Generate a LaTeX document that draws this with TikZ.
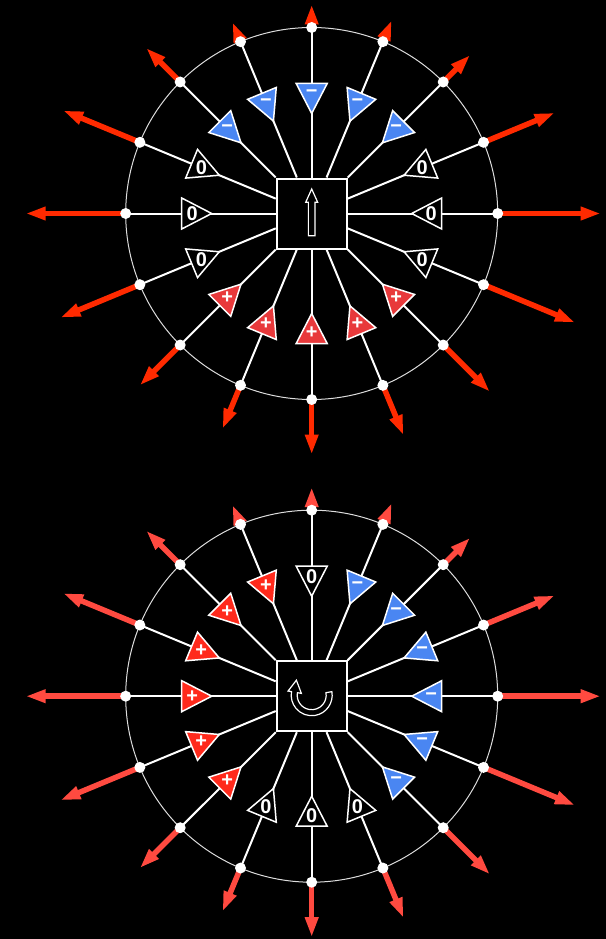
\documentclass[tikz,border=0pt]{standalone}
\usepackage{fontspec}
\setmainfont{Liberation Sans}
\usetikzlibrary{arrows.meta}
\definecolor{minusblue}{HTML}{4A86F2}
\definecolor{plusred}{HTML}{E8393B}
\definecolor{plusbright}{HTML}{FF2A1C}
\definecolor{flowred}{HTML}{FF2A00}
\definecolor{flowlight}{HTML}{FF4A40}
\definecolor{rimgray}{HTML}{DDDDDD}

\begin{document}
\begin{tikzpicture}[x=1bp, y=1bp,
  cell/.style={draw=white, fill=black, line width=2bp, minimum size=70bp, inner sep=0pt},
  rim/.style={draw=rimgray, line width=1bp},
  spoke/.style={draw=white, line width=2bp},
  flow/.style={flowred, line width=5.5bp, -{Triangle[length=20bp, width=12.5bp]}},
  dot/.style={circle, fill=white, inner sep=0pt, minimum size=11bp},
  wedge/.style={draw=white, line width=1.5bp, line join=miter},
  icon/.style={draw=white, line width=1.2bp},
  sign/.style={text=white, inner sep=0pt, font=\fontsize{20}{20}\selectfont\bfseries},
  chneg/.style={fill=minusblue}, sign-chneg/.style={node contents={−}},
  chnil/.style={fill=black},     sign-chnil/.style={node contents={0}},
  chpos/.style={fill=plusred},   sign-chpos/.style={node contents={+}}]
  \useasboundingbox (-311.7,213.5) rectangle (294.3,-725.5);
  \fill[black] (-311.7,213.5) rectangle (294.3,-725.5);

  % translation
  \begin{scope}
    \node[cell] (dip) at (0,0) {};
    \draw[rim] (dip.center) circle[radius=186];
    \foreach \a/\len/\k [count=\i] in {90/23/chneg, 67.5/23/chneg, 45/38/chneg, 22.5/77/chnil,
        0/103/chnil, -22.5/99/chnil, -45/66/chpos, -67.5/54/chpos, -90/55/chpos, -112.5/47/chpos,
        -135/57/chpos, -157.5/86/chnil, 180/100/chnil, 157.5/83/chnil, 135/48/chneg, 112.5/21/chneg} {
      \coordinate (dip-p\i) at (\a:186);
      \draw[spoke] (dip) -- (dip-p\i);
      \draw[flow] (dip-p\i) -- ++(\a:\len) coordinate (dip-q\i);
      \draw[wedge, \k, shift={(\a:120)}, rotate=\a] (-20,0) -- (10,15.5) -- (10,-15.5) -- cycle;
      \node (dip-s\i) at (\a:119.5) [sign, sign-\k];
      \node[dot] (dip-d\i) at (dip-p\i) {};
    }
    \draw[icon] (0,24.5) -- (6,11.2) -- (3.3,11.2) -- (3.3,-22.2) -- (-3.3,-22.2)
      -- (-3.3,11.2) -- (-6,11.2) -- cycle;
  \end{scope}

  % rotation
  \begin{scope}[shift={(0,-482.7)}, chpos/.style={fill=plusbright},
      flow/.append style={flowlight}]
    \node[cell] (rot) at (0,0) {};
    \draw[rim] (rot.center) circle[radius=186];
    \foreach \a/\len/\k [count=\i] in {90/23/chnil, 67.5/23/chneg, 45/38/chneg, 22.5/77/chneg,
        0/103/chneg, -22.5/99/chneg, -45/66/chneg, -67.5/54/chnil, -90/55/chnil, -112.5/47/chnil,
        -135/57/chpos, -157.5/86/chpos, 180/100/chpos, 157.5/83/chpos, 135/48/chpos, 112.5/21/chpos} {
      \coordinate (rot-p\i) at (\a:186);
      \draw[spoke] (rot) -- (rot-p\i);
      \draw[flow] (rot-p\i) -- ++(\a:\len) coordinate (rot-q\i);
      \draw[wedge, \k, shift={(\a:120)}, rotate=\a] (-20,0) -- (10,15.5) -- (10,-15.5) -- cycle;
      \node (rot-s\i) at (\a:119.5) [sign, sign-\k];
      \node[dot] (rot-d\i) at (rot-p\i) {};
    }
    \draw[icon, shift={(0,1)}] (10:20.5) arc[start angle=10, end angle=-190, radius=20.5]
      -- (170:24) -- (-15.3,15) -- (170:10.5)
      -- (-190:14.5) arc[start angle=-190, end angle=10, radius=14.5] -- cycle;
  \end{scope}
\end{tikzpicture}
\end{document}
